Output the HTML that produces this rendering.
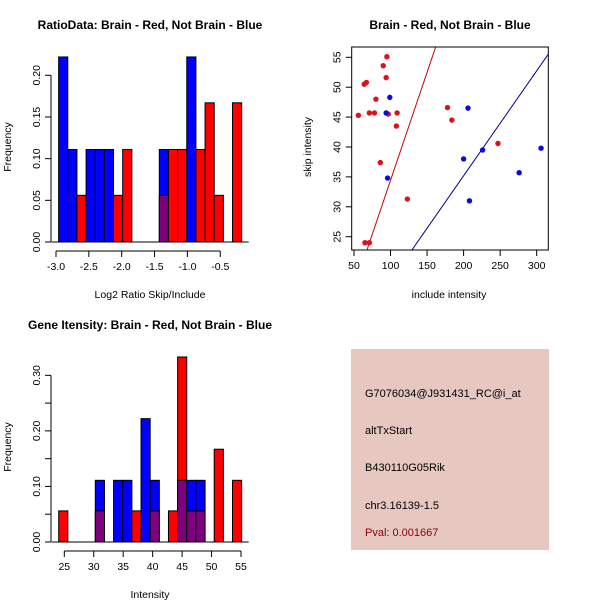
<!DOCTYPE html>
<html><head><meta charset="utf-8"><style>
html,body{margin:0;padding:0;background:#fff}
svg{display:block;font-family:"Liberation Sans",Helvetica,Arial,sans-serif}
</style></head><body>
<svg id="s" width="600" height="600" viewBox="0 0 600 600">
<rect width="600" height="600" fill="#fff"/>
<g>
<rect x="351" y="349" width="198" height="201" fill="#e6c8c1"/>
<text x="365" y="397" font-size="11" fill="#000">G7076034@J931431_RC@i_at</text>
<text x="365" y="434" font-size="11" fill="#000">altTxStart</text>
<text x="365" y="471" font-size="11" fill="#000">B430110G05Rik</text>
<text x="365" y="509" font-size="11" fill="#000">chr3.16139-1.5</text>
<text x="365" y="536" font-size="11" fill="#8b0000">Pval: 0.001667</text>
</g>
</svg>
<script>
// ---- Histogram 1 data ----
const h1Red  = [0,0,0.056,0,0,0,0.056,0.111,0,0,0,0.056,0.111,0.111,0,0.111,0.167,0.056,0,0.167];
const h1Blue = [0.222,0.111,0,0.111,0.111,0.111,0,0,0,0,0,0.111,0,0,0.222,0,0,0,0,0];
const h1XTicks = [-3.0,-2.5,-2.0,-1.5,-1.0,-0.5];
const h1XLabels = ["-3.0","-2.5","-2.0","-1.5","-1.0","-0.5"];
const h1YTicks = [0,0.05,0.10,0.15,0.20];
const h1YLabels = ["0.00","0.05","0.10","0.15","0.20"];
// ---- Histogram 2 data ----
const h2Red  = [0.056,0,0,0,0.056,0,0,0,0.056,0,0.056,0,0.056,0.333,0.056,0.056,0,0.167,0,0.111];
const h2Blue = [0,0,0,0,0.111,0,0.111,0.111,0,0.222,0.111,0,0,0.111,0.111,0.111,0,0,0,0];
const h2XTicks = [25,30,35,40,45,50,55];
const h2YTicks = [0,0.05,0.10,0.15,0.20,0.25,0.30];
const h2YLabels = ["0.00","","0.10","","0.20","","0.30"];
// ---- Scatter data ----
const redX = [56,64,67,65,71,71,78,80,86,90,94,95,97,108,109,123,178,184,247];
const redY = [45.3,50.5,50.8,24,24,45.7,45.7,48.0,37.4,53.6,51.6,55.1,45.5,43.5,45.7,31.3,46.6,44.5,40.6];
const blueX = [94,96,99,200,206,208,226,276,306];
const blueY = [45.7,34.8,48.3,38.0,46.5,31.0,39.5,35.7,39.8];
const redLine = [-1.67,0.361];   // intercept, slope
const blueLine = [0.09,0.1755];
const scXTicks = [50,100,150,200,250,300];
const scYTicks = [25,30,35,40,45,50,55];

const NS="http://www.w3.org/2000/svg";
const svg=document.getElementById('s');
function mk(tag,attrs,parent){const e=document.createElementNS(NS,tag);for(const k in attrs)e.setAttribute(k,attrs[k]);(parent||svg).appendChild(e);return e;}
function txt(x,y,s,attrs,parent){const e=mk('text',Object.assign({x:x,y:y,'font-size':11,'text-anchor':'middle'},attrs||{}),parent);e.textContent=s;return e;}

function histogram(name,red,blue,x0,bw,sx,sy,baseY,g){
  for(let i=0;i<red.length;i++){
    const r=red[i],b=blue[i];
    const xl=sx(x0+i*bw), xr=sx(x0+(i+1)*bw);
    const hi=Math.max(r,b), lo=Math.min(r,b);
    if(hi>0){
      const e=mk('rect',{x:xl,y:sy(hi),width:xr-xl,height:sy(0)-sy(hi),fill:r>=b?'#ff0000':'#0000ff',stroke:'#000','stroke-width':1},g);
      
      
    }
    if(lo>0){
      const e=mk('rect',{x:xl,y:sy(lo),width:xr-xl,height:sy(0)-sy(lo),fill:'#7f007f',stroke:'#000','stroke-width':1},g);
      
      
    }
  }
  mk('line',{x1:sx(x0)-7,x2:sx(x0+red.length*bw)+7,y1:sy(0),y2:sy(0),stroke:'#000'},g);
}
function yAxis(x,ticks,labels,sy,g,name){
  const a=mk('g',{},g);
  
  
  mk('line',{x1:x,x2:x,y1:sy(ticks[0]),y2:sy(ticks[ticks.length-1]),stroke:'#000'},a);
  ticks.forEach((t,i)=>{const y=sy(t);mk('line',{x1:x-6,x2:x,y1:y,y2:y,stroke:'#000'},a);
    if(labels[i]!==''){const e=txt(0,0,labels[i],{transform:`translate(${x-11},${y}) rotate(-90)`,'font-size':10.5},a);}});
}
function xAxis(y,ticks,labels,sx,g,name){
  const a=mk('g',{},g);
  
  
  mk('line',{x1:sx(ticks[0]),x2:sx(ticks[ticks.length-1]),y1:y,y2:y,stroke:'#000'},a);
  ticks.forEach((t,i)=>{const x=sx(t);mk('line',{x1:x,x2:x,y1:y,y2:y+6,stroke:'#000'},a);txt(x,y+19,labels[i],{'font-size':10.5},a);});
}

// ---- Panel 1 ----
{
  const g=mk('g',{});
  
  
  const sx=v=>56+(v+3)*65.7, sy=v=>242-v*833.5;
  histogram('ratio',h1Red,h1Blue,-2.96,0.1393,sx,sy,242,g);
  yAxis(51,h1YTicks,h1YLabels,sy,g,'ratio-y-axis');
  xAxis(251,h1XTicks,h1XLabels,sx,g,'ratio-x-axis');
  const t=txt(150,29,'RatioData: Brain - Red, Not Brain - Blue',{'font-weight':'bold','font-size':12},g);
  
  const xl=txt(150,298,'Log2 Ratio Skip/Include',{'font-size':10.5},g);
  
  const yl=txt(0,0,'Frequency',{transform:'translate(11,147) rotate(-90)','font-size':10.5},g);
  
}
// ---- Panel 3 ----
{
  const g=mk('g',{});
  
  
  const sx=v=>64.3+(v-25)*5.89, sy=v=>542-v*555.6;
  histogram('intensity',h2Red,h2Blue,24.05,1.553,sx,sy,542,g);
  yAxis(51,h2YTicks,h2YLabels,sy,g,'intensity-y-axis');
  xAxis(551,h2XTicks,h2XTicks.map(String),sx,g,'intensity-x-axis');
  const t=txt(150,329,'Gene Itensity: Brain - Red, Not Brain - Blue',{'font-weight':'bold','font-size':12},g);
  
  const xl=txt(150,598,'Intensity',{'font-size':10.5},g);
  
  const yl=txt(0,0,'Frequency',{transform:'translate(11,447) rotate(-90)','font-size':10.5},g);
  
}
// ---- Panel 2 scatter ----
{
  const g=mk('g',{});
  
  
  const L=351.7,R=548.3,T=47,B=250;
  const sx=v=>354+(v-50)*0.7307, sy=v=>236.7-(v-25)*5.98;
  const ix=v=>50+(v-354)/0.7307, iy=v=>25+(236.7-v)/5.98;
  const cp=mk('clipPath',{id:'clipsc'},g);
  mk('rect',{x:L,y:T,width:R-L,height:B-T},cp);
  const lg=mk('g',{'clip-path':'url(#clipsc)'},g);
  [[redLine,'#cc0000','red-fit-line'],[blueLine,'#00008b','blue-fit-line']].forEach(([ln,c,n])=>{
    const x1=ix(L),x2=ix(R);
    const e=mk('line',{x1:sx(x1),x2:sx(x2),y1:sy(ln[0]+ln[1]*x1),y2:sy(ln[0]+ln[1]*x2),stroke:c,'stroke-width':1},lg);
    
    
  });
  redX.forEach((x,i)=>{const e=mk('circle',{cx:sx(x),cy:sy(redY[i]),r:2.7,fill:'#e0101a'},g);
    
    });
  blueX.forEach((x,i)=>{const e=mk('circle',{cx:sx(x),cy:sy(blueY[i]),r:2.7,fill:'#0a0ae0'},g);
    
    });
  const box=mk('rect',{x:L,y:T,width:R-L,height:B-T,fill:'none',stroke:'#000'},g);
  
  
  const ya=mk('g',{},g);
  
  
  scYTicks.forEach(t=>{const y=sy(t);mk('line',{x1:L-6,x2:L,y1:y,y2:y,stroke:'#000'},ya);txt(0,0,String(t),{transform:`translate(${L-11},${y}) rotate(-90)`,'font-size':10.5},ya);});
  const xa=mk('g',{},g);
  
  
  scXTicks.forEach(t=>{const x=sx(t);mk('line',{x1:x,x2:x,y1:B,y2:B+6,stroke:'#000'},xa);txt(x,B+19,String(t),{'font-size':10.5},xa);});
  const t=txt(450,29,'Brain - Red, Not Brain - Blue',{'font-weight':'bold','font-size':12},g);
  
  const xl=txt(449,298,'include intensity',{'font-size':10.5},g);
  
  const yl=txt(0,0,'skip intensity',{transform:'translate(311,147) rotate(-90)','font-size':10.5},g);
  
}
</script>
</body></html>
